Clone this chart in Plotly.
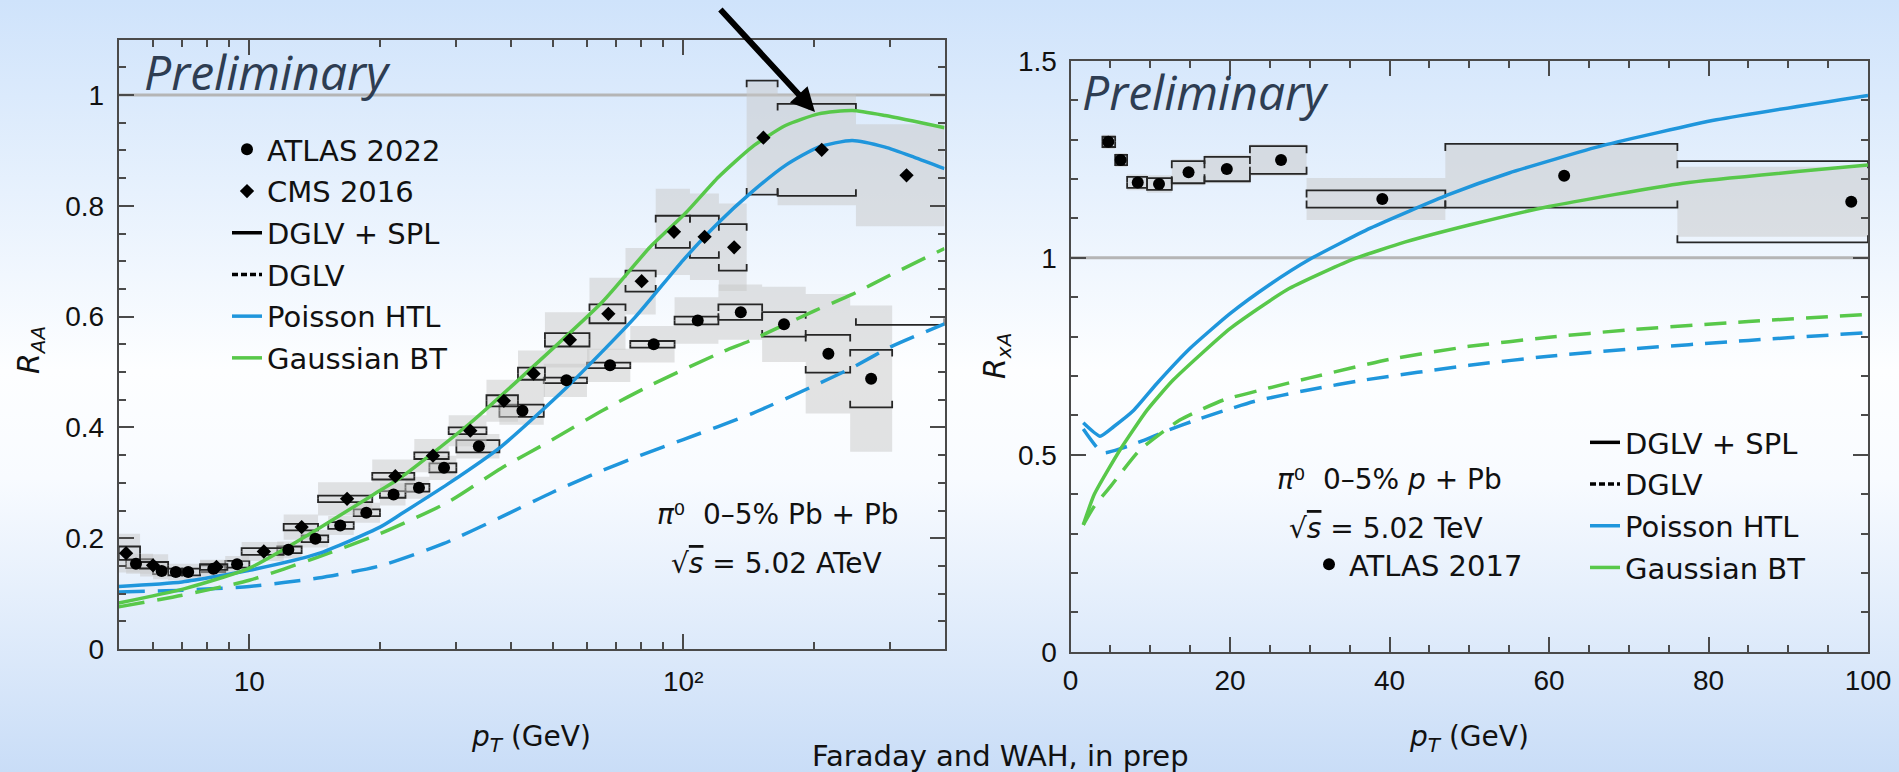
import base64
import math
import plotly.graph_objects as go

W, H = 1899, 772

# ---------------- data: left panel, pi0 R_AA in 0-5% Pb+Pb ----------------
atlas22_pt = [5.48, 6.28, 6.77, 7.23, 8.26, 9.37, 12.3, 14.2, 16.2, 18.6, 21.5, 24.6, 28.1,
              33.8, 42.6, 53.8, 67.8, 85.5, 108, 135.7, 170.7, 216, 271]
atlas22_raa = [0.154, 0.141, 0.139, 0.139, 0.145, 0.153, 0.179, 0.199, 0.223, 0.246, 0.279, 0.291, 0.327,
               0.366, 0.430, 0.485, 0.512, 0.550, 0.593, 0.608, 0.586, 0.533, 0.488]
atlas22_lo = [5.2, 6.0, 6.5, 7.0, 7.7, 8.8, 11.6, 13.2, 15.2, 17.4, 20.0, 22.9, 26.0,
              30.0, 37.7, 47.7, 60.0, 75.5, 95.5, 120.5, 152, 191.5, 242.5]
atlas22_hi = [6.0, 6.5, 7.0, 7.7, 8.8, 10.0, 13.2, 15.2, 17.4, 20.0, 22.9, 26.0, 30.0,
              37.7, 47.7, 60.0, 75.5, 95.5, 120.5, 152, 191.5, 242.5, 303]
atlas22_sys = [0.008, 0.006, 0.006, 0.006, 0.006, 0.006, 0.006, 0.006, 0.006, 0.006, 0.006, 0.007, 0.008,
               0.011, 0.011, 0.005, 0.005, 0.006, 0.007, 0.014, 0.022, 0.034, 0.052]
atlas22_unc = [0.018, 0.015, 0.015, 0.015, 0.015, 0.015, 0.015, 0.016, 0.017, 0.018, 0.020, 0.020, 0.022,
               0.022, 0.025, 0.030, 0.030, 0.033, 0.042, 0.050, 0.068, 0.108, 0.132]

cms16_pt = [5.2, 6.0, 8.4, 10.8, 13.2, 16.8, 21.7, 26.5, 32.3, 38.6, 45.2, 54.8, 67.2, 80.2,
            95.2, 112, 131, 153, 208.5, 327]
cms16_raa = [0.173, 0.151, 0.148, 0.176, 0.220, 0.271, 0.312, 0.349, 0.394, 0.448, 0.497, 0.558, 0.605, 0.664,
             0.753, 0.744, 0.725, 0.923, 0.901, 0.855]
cms16_lo = [5.0, 5.6, 7.7, 9.6, 12.0, 14.4, 19.2, 24.0, 28.8, 35.2, 41.6, 48.0, 60.8, 73.6,
            86.4, 103.6, 120.8, 140, 165, 250]
cms16_hi = [5.6, 6.5, 8.9, 12.0, 14.4, 19.2, 24.0, 28.8, 35.2, 41.6, 48.0, 60.8, 73.6, 86.4,
            103.6, 120.8, 140, 165, 250, 400]
cms16_sys = [0.012, 0.006, 0.005, 0.006, 0.006, 0.006, 0.006, 0.006, 0.006, 0.010, 0.011, 0.012, 0.017, 0.019,
             0.029, 0.038, 0.042, 0.103, 0.083, 0.27]
cms16_unc = [0.035, 0.020, 0.013, 0.017, 0.023, 0.030, 0.030, 0.030, 0.028, 0.038, 0.042, 0.050, 0.065, 0.060,
             0.078, 0.078, 0.079, 0.100, 0.100, 0.092]

# theory, Pb+Pb
aa_htl_spl_pt = [5, 7, 10, 14.4, 20, 22.4, 28.7, 38, 54, 77.5, 100, 120, 144, 172, 205, 245, 292, 340, 400]
aa_htl_spl = [0.113, 0.121, 0.142, 0.172, 0.220, 0.244, 0.298, 0.365, 0.473, 0.599, 0.702, 0.768, 0.825,
              0.873, 0.906, 0.918, 0.906, 0.888, 0.867]
aa_bt_spl_pt = [5, 7.1, 10, 13.4, 20, 22.4, 32.2, 45.4, 65, 84, 101, 120.6, 144, 172, 205, 245, 292, 400]
aa_bt_spl = [0.083, 0.109, 0.146, 0.202, 0.286, 0.310, 0.407, 0.512, 0.626, 0.726, 0.786, 0.852, 0.906,
             0.945, 0.966, 0.972, 0.963, 0.941]
aa_htl_pt = [5, 7, 10, 14.4, 20, 28, 38, 50, 65, 80, 100, 144, 200, 244, 300, 400]
aa_htl = [0.103, 0.106, 0.113, 0.128, 0.150, 0.190, 0.238, 0.283, 0.322, 0.350, 0.378, 0.425, 0.475, 0.507,
          0.545, 0.587]
aa_bt_pt = [5, 7, 10, 14.4, 20, 28.7, 38, 50, 65, 85, 122, 144, 200, 245, 300, 400]
aa_bt = [0.076, 0.097, 0.124, 0.166, 0.208, 0.265, 0.326, 0.378, 0.430, 0.478, 0.535, 0.558, 0.610, 0.640,
         0.675, 0.723]

# ---------------- data: right panel, pi0 R_xA in 0-5% p+Pb ----------------
atlas17_pt = [4.74, 6.29, 8.43, 11.1, 14.8, 19.6, 26.4, 39.1, 61.9, 97.9]
atlas17_rpa = [1.294, 1.248, 1.191, 1.187, 1.217, 1.225, 1.248, 1.149, 1.208, 1.142]
atlas17_lo = [4.0, 5.6, 7.1, 9.6, 12.7, 16.8, 22.5, 29.6, 47.0, 76.1]
atlas17_hi = [5.6, 7.1, 9.6, 12.7, 16.8, 22.5, 29.6, 47.0, 76.1, 100]
atlas17_sys = [0.013, 0.013, 0.014, 0.015, 0.028, 0.031, 0.035, 0.022, 0.081, 0.103]
atlas17_unc = [0.018, 0.018, 0.020, 0.022, 0.033, 0.036, 0.040, 0.053, 0.078, 0.089]

pa_htl_spl_pt = [1.6, 3.7, 5.4, 7.9, 10.8, 15, 20, 25, 30, 37.6, 47.4, 55, 66.8, 81, 100]
pa_htl_spl = [0.581, 0.547, 0.571, 0.612, 0.680, 0.770, 0.858, 0.932, 0.996, 1.075, 1.160, 1.215, 1.285,
              1.350, 1.412]
pa_bt_spl_pt = [1.6, 3, 6.2, 9.6, 12.9, 20, 27.1, 35.3, 42, 50, 60, 76.8, 100]
pa_bt_spl = [0.322, 0.40, 0.512, 0.613, 0.690, 0.82, 0.918, 0.995, 1.04, 1.083, 1.13, 1.189, 1.235]
pa_htl_pt = [1.6, 4.0, 6.5, 9, 12, 16, 23, 30, 37, 50, 60, 70, 85, 100]
pa_htl = [0.565, 0.505, 0.517, 0.535, 0.56, 0.59, 0.635, 0.665, 0.69, 0.727, 0.75, 0.768, 0.79, 0.81]
pa_bt_pt = [1.6, 3, 5, 8.7, 13.7, 19.2, 25, 30, 40, 50, 60, 70, 85, 100]
pa_bt = [0.322, 0.37, 0.419, 0.512, 0.588, 0.639, 0.67, 0.695, 0.742, 0.775, 0.798, 0.817, 0.838, 0.856]

# tick labels
aa_xtick_vals = [10, 100]
aa_xtick_text = ["10", "10²"]
aa_ytick_vals = [0, 0.2, 0.4, 0.6, 0.8, 1.0]
aa_ytick_text = ["0", "0.2", "0.4", "0.6", "0.8", "1"]
pa_xtick_vals = [0, 20, 40, 60, 80, 100]
pa_xtick_text = ["0", "20", "40", "60", "80", "100"]
pa_ytick_vals = [0, 0.5, 1.0, 1.5]
pa_ytick_text = ["0", "0.5", "1", "1.5"]

# ---------------- styling ----------------
BLUE = "#1f96dc"
GREEN = "#58c84a"
TXT = "#111111"
AXC = "#4a4a4a"
FONT = "DejaVu Sans"
TICKFONT = "Liberation Sans"
SUB = "font-size:20px;baseline-shift:-6px;font-style:italic"


def px_x(p):
    return p / W


def px_y(p):
    return 1 - p / H


def box_path(lo, hi, y, h):
    xs, ys = [], []
    for a, b, c, d in zip(lo, hi, y, h):
        xs += [a, b, b, a, a, None]
        ys += [c - d, c - d, c + d, c + d, c - d, None]
    return xs, ys


def bracket_path(lo, hi, y, s, tick):
    xs, ys = [], []
    for a, b, c, d in zip(lo, hi, y, s):
        t = min(tick, d)
        xs += [a, a, b, b, None, a, a, b, b, None]
        ys += [c + d - t, c + d, c + d, c + d - t, None, c - d + t, c - d, c - d, c - d + t, None]
    return xs, ys


fig = go.Figure()


def add_points(pt, val, lo, hi, sys, unc, symbol, size, name, xa, ya, tick, legend, rank):
    gx, gy = box_path(lo, hi, val, unc)
    fig.add_trace(go.Scatter(x=gx, y=gy, xaxis=xa, yaxis=ya, mode="lines", fill="toself",
                             fillcolor="rgba(200,200,200,0.5)", line=dict(width=0),
                             showlegend=False, hoverinfo="skip"))
    bx, by = bracket_path(lo, hi, val, sys, tick)
    fig.add_trace(go.Scatter(x=bx, y=by, xaxis=xa, yaxis=ya, mode="lines",
                             line=dict(color="#262626", width=1.8), showlegend=False, hoverinfo="skip"))
    return go.Scatter(x=pt, y=val, xaxis=xa, yaxis=ya, mode="markers", name=name,
                      marker=dict(symbol=symbol, size=size, color="black"),
                      legend=legend, legendgroup=name, legendrank=rank)


m1 = add_points(atlas22_pt, atlas22_raa, atlas22_lo, atlas22_hi, atlas22_sys, atlas22_unc,
                "circle", 12, "ATLAS 2022", "x", "y", 0.012, "legend", 1)
m2 = add_points(cms16_pt, cms16_raa, cms16_lo, cms16_hi, cms16_sys, cms16_unc,
                "diamond", 11, "CMS 2016", "x", "y", 0.012, "legend", 2)
m3 = add_points(atlas17_pt, atlas17_rpa, atlas17_lo, atlas17_hi, atlas17_sys, atlas17_unc,
                "circle", 12, "ATLAS 2017", "x2", "y2", 0.018, "legend3", 1)

LW = 3.5
DASH_L = "26px,13px"
DASH_R = "22px,12px"
SM = 0.6
# theory curves, left
fig.add_trace(go.Scatter(x=aa_htl_pt, y=aa_htl, mode="lines",
                         line=dict(color=BLUE, width=LW, dash=DASH_L, shape="spline", smoothing=SM),
                         showlegend=False, hoverinfo="skip"))
fig.add_trace(go.Scatter(x=aa_bt_pt, y=aa_bt, mode="lines",
                         line=dict(color=GREEN, width=LW, dash=DASH_L, shape="spline", smoothing=SM),
                         showlegend=False, hoverinfo="skip"))
fig.add_trace(go.Scatter(x=aa_htl_spl_pt, y=aa_htl_spl, mode="lines", name="Poisson HTL", legend="legend",
                         legendgroup="Poisson HTL", legendrank=5,
                         line=dict(color=BLUE, width=LW, shape="spline", smoothing=SM)))
fig.add_trace(go.Scatter(x=aa_bt_spl_pt, y=aa_bt_spl, mode="lines", name="Gaussian BT", legend="legend",
                         legendgroup="Gaussian BT", legendrank=6,
                         line=dict(color=GREEN, width=LW, shape="spline", smoothing=SM)))
# theory curves, right
fig.add_trace(go.Scatter(x=pa_htl_pt, y=pa_htl, xaxis="x2", yaxis="y2", mode="lines",
                         line=dict(color=BLUE, width=LW, dash=DASH_R, shape="spline", smoothing=0.5),
                         showlegend=False, hoverinfo="skip"))
fig.add_trace(go.Scatter(x=pa_bt_pt, y=pa_bt, xaxis="x2", yaxis="y2", mode="lines",
                         line=dict(color=GREEN, width=LW, dash=DASH_R, shape="spline", smoothing=0.5),
                         showlegend=False, hoverinfo="skip"))
fig.add_trace(go.Scatter(x=pa_htl_spl_pt, y=pa_htl_spl, xaxis="x2", yaxis="y2", mode="lines", name="Poisson HTL",
                         legend="legend2", legendgroup="Poisson HTL 2", legendrank=5,
                         line=dict(color=BLUE, width=LW, shape="spline", smoothing=0.5)))
fig.add_trace(go.Scatter(x=pa_bt_spl_pt, y=pa_bt_spl, xaxis="x2", yaxis="y2", mode="lines", name="Gaussian BT",
                         legend="legend2", legendgroup="Gaussian BT 2", legendrank=6,
                         line=dict(color=GREEN, width=LW, shape="spline", smoothing=0.5)))

# style keys (legend only)
for lg, sfx in (("legend", ""), ("legend2", " 2")):
    fig.add_trace(go.Scatter(x=[None], y=[None], mode="lines", name="DGLV + SPL", legend=lg,
                             legendgroup="DGLV + SPL" + sfx, legendrank=3,
                             line=dict(color="black", width=LW)))
    fig.add_trace(go.Scatter(x=[None], y=[None], mode="lines", name="DGLV", legend=lg,
                             legendgroup="DGLV" + sfx, legendrank=4,
                             line=dict(color="black", width=LW, dash="6px,3px")))

fig.add_trace(m1)
fig.add_trace(m2)
fig.add_trace(m3)

# ---------------- axes ----------------
common = dict(showline=True, linecolor=AXC, linewidth=2, mirror="allticks", ticks="inside",
              ticklen=15, tickwidth=1.5, tickcolor=AXC, showgrid=False, zeroline=False, automargin=False,
              tickfont=dict(family=TICKFONT, size=28, color=TXT))
mstyle = dict(ticks="inside", ticklen=7, tickwidth=1.5, tickcolor=AXC, showgrid=False)
fig.update_layout(
    xaxis=dict(common, type="log", range=[math.log10(5), math.log10(400)],
               domain=[118.7 / W, 944.5 / W], anchor="y",
               tickvals=aa_xtick_vals, ticktext=aa_xtick_text, ticklabelstandoff=6,
               minor=dict(mstyle, tickvals=[5, 6, 7, 8, 9, 20, 30, 40, 50, 60, 70, 80, 90, 200, 300, 400])),
    yaxis=dict(common, range=[0, 1.1], domain=[1 - 649 / H, 1 - 39.6 / H], anchor="x",
               tickvals=aa_ytick_vals, ticktext=aa_ytick_text,
               ticklabelstandoff=7, minor=dict(mstyle, dtick=0.05, tick0=0)),
    xaxis2=dict(common, range=[0, 100], domain=[1070.5 / W, 1868 / W], anchor="y2",
                tickvals=pa_xtick_vals, ticktext=pa_xtick_text,
                ticklabelstandoff=3, minor=dict(mstyle, dtick=5, tick0=0)),
    yaxis2=dict(common, range=[0, 1.5], domain=[1 - 651.7 / H, 1 - 60.7 / H], anchor="x2",
                tickvals=pa_ytick_vals, ticktext=pa_ytick_text,
                ticklabelstandoff=6, minor=dict(mstyle, dtick=0.1, tick0=0)),
)

# reference lines at unity
for xr, yr in (("x domain", "y"), ("x2 domain", "y2")):
    fig.add_shape(type="line", xref=xr, yref=yr, x0=0, x1=1, y0=1, y1=1,
                  line=dict(color="#b5b5b5", width=3), layer="below")

# ---------------- background gradient ----------------
svg = (f'<svg xmlns="http://www.w3.org/2000/svg" width="{W}" height="{H}" viewBox="0 0 {W} {H}" '
       'preserveAspectRatio="none"><defs><linearGradient id="g" x1="0" y1="0" x2="0" y2="1">'
       '<stop offset="0" stop-color="#cfe3fb"/><stop offset="0.48" stop-color="#fdfeff"/>'
       '<stop offset="0.62" stop-color="#f8fbff"/><stop offset="1" stop-color="#c9ddf7"/>'
       '</linearGradient></defs><rect x="0" y="0" width="100%" height="100%" fill="url(#g)"/></svg>')
src = "data:image/svg+xml;base64," + base64.b64encode(svg.encode()).decode()
fig.add_layout_image(dict(source=src, xref="paper", yref="paper", x=0, y=1, sizex=1, sizey=1,
                          xanchor="left", yanchor="top", sizing="stretch", layer="below"))

# ---------------- legends ----------------
leg = dict(xanchor="left", yanchor="top", bgcolor="rgba(0,0,0,0)", borderwidth=0,
           font=dict(family=FONT, size=29, color=TXT), tracegroupgap=1, itemwidth=30)
fig.update_layout(
    legend=dict(leg, x=px_x(227), y=px_y(124)),
    legend2=dict(leg, x=px_x(1585), y=px_y(417)),
    legend3=dict(leg, x=px_x(1309), y=px_y(539)),
)


def note(text, x, y, size=28, xanchor="left", yanchor="middle", angle=0, color=TXT, family=FONT):
    fig.add_annotation(text=text, x=px_x(x), y=px_y(y), xref="paper", yref="paper",
                       xanchor=xanchor, yanchor=yanchor, showarrow=False, textangle=angle,
                       font=dict(family=family, size=size, color=color))


OVS = "<span style='text-decoration:overline;font-style:italic'>s</span>"
# texts
note("<i>π</i>⁰  0–5% Pb + Pb", 655, 533, yanchor="bottom")
note("√" + OVS + " = 5.02 ATeV", 669, 582, yanchor="bottom")
note("<i>π</i>⁰  0–5% <i>p</i> + Pb", 1275, 498, yanchor="bottom")
note("√" + OVS + " = 5.02 TeV", 1287, 547, yanchor="bottom")
note("<i>Preliminary</i>", 142, 71.5, size=48, color="#2e3d52", family="Open Sans")
note("<i>Preliminary</i>", 1080, 91.5, size=48, color="#2e3d52", family="Open Sans")
note("Faraday and WAH, in prep", 1000, 756, size=29, xanchor="center")
note(f"<i>R</i><span style='{SUB}'>AA</span>", 30, 350, size=30, xanchor="center", angle=-90)
note(f"<i>R</i><span style='{SUB}'>xA</span>", 996, 356, size=30, xanchor="center", angle=-90)
note(f"<i>p</i><span style='{SUB}'>T</span> (GeV)", 531, 738, size=28, xanchor="center")
note(f"<i>p</i><span style='{SUB}'>T</span> (GeV)", 1469, 738, size=28, xanchor="center")

# arrow pointing at the peak
fig.add_annotation(text="", x=px_x(815), y=px_y(112), xref="paper", yref="paper",
                   showarrow=True, ax=-96, ay=-104, arrowhead=2, arrowsize=0.8, arrowwidth=6,
                   arrowcolor="black", standoff=0)

fig.update_layout(width=W, height=H, margin=dict(l=0, r=0, t=0, b=0, pad=0, autoexpand=False), autosize=False,
                  paper_bgcolor="#e4eefb", plot_bgcolor="rgba(0,0,0,0)",
                  font=dict(family=FONT, size=28, color=TXT), hovermode=False)

fig.write_html("out.html", config={"displayModeBar": False},
               post_script="document.body.style.margin='0px';document.body.style.overflow='hidden';")
